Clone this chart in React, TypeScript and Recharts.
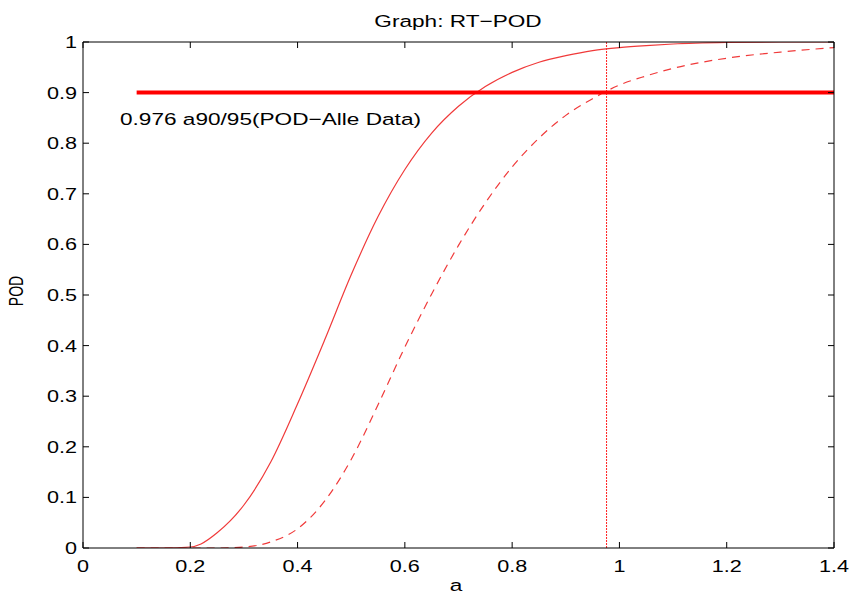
import React from "react";
import {
  ComposedChart,
  Line,
  XAxis,
  YAxis,
  ReferenceLine,
  ReferenceDot,
} from "recharts";

// ---- data ----
const aValues = [
  0.1, 0.15, 0.2, 0.22, 0.25, 0.3, 0.35, 0.4, 0.45, 0.5, 0.55, 0.6, 0.65, 0.7,
  0.75, 0.8, 0.85, 0.9, 0.95, 1.0, 1.05, 1.1, 1.2, 1.3, 1.4,
];
const podSolid = [
  0, 0, 0.002, 0.008, 0.03, 0.085, 0.17, 0.285, 0.41, 0.54, 0.655, 0.748,
  0.82, 0.873, 0.912, 0.94, 0.96, 0.973, 0.983, 0.989, 0.993, 0.996, 0.999,
  1.0, 1.0,
];
const podDashed = [
  0, 0, 0, 0, 0, 0.002, 0.012, 0.038, 0.092, 0.175, 0.283, 0.397, 0.502, 0.598,
  0.682, 0.753, 0.81, 0.855, 0.888, 0.915, 0.933, 0.948, 0.968, 0.98, 0.989,
];
const thresholdPOD = 0.9;
const a9095 = 0.976;
const xTicks = [0, 0.2, 0.4, 0.6, 0.8, 1, 1.2, 1.4];
const xTickLabels = ["0", "0.2", "0.4", "0.6", "0.8", "1", "1.2", "1.4"];
const yTicks = [0, 0.1, 0.2, 0.3, 0.4, 0.5, 0.6, 0.7, 0.8, 0.9, 1];
const yTickLabels = ["0", "0.1", "0.2", "0.3", "0.4", "0.5", "0.6", "0.7", "0.8", "0.9", "1"];
const titleText = "Graph: RT\u2212POD";
const annotationText = "0.976 a90/95(POD\u2212Alle Data)";
const xLabel = "a";
const yLabel = "POD";

const tableData = aValues.map((a, i) => ({
  a,
  solid: podSolid[i],
  dashed: podDashed[i],
  thr: thresholdPOD,
}));

const FONT = "'Liberation Sans', Arial, sans-serif";

const labelFor = (vals: number[], labels: string[], v: number) => {
  const i = vals.findIndex((t) => Math.abs(t - v) < 1e-9);
  return i >= 0 ? labels[i] : String(v);
};

const BottomTick = (props: any) => {
  const { x, y, payload } = props;
  return (
    <g>
      <line x1={x} y1={y} x2={x} y2={y - 6} stroke="#000" strokeWidth={1} />
      <text
        transform={`translate(${x},${y + 24}) scale(1.35,1)`}
        textAnchor="middle"
        fontSize={16}
        fontFamily={FONT}
        fill="#000"
      >
        {labelFor(xTicks, xTickLabels, payload.value)}
      </text>
    </g>
  );
};

const TopTick = (props: any) => {
  const { x, y } = props;
  return <line x1={x} y1={y} x2={x} y2={y + 6} stroke="#000" strokeWidth={1} />;
};

const LeftTick = (props: any) => {
  const { x, y, payload } = props;
  return (
    <g>
      <line x1={x} y1={y} x2={x + 6} y2={y} stroke="#000" strokeWidth={1} />
      <text
        transform={`translate(${x - 6},${y + 6}) scale(1.35,1)`}
        textAnchor="end"
        fontSize={16}
        fontFamily={FONT}
        fill="#000"
      >
        {labelFor(yTicks, yTickLabels, payload.value)}
      </text>
    </g>
  );
};

const RightTick = (props: any) => {
  const { x, y } = props;
  return <line x1={x} y1={y} x2={x - 6} y2={y} stroke="#000" strokeWidth={1} />;
};

const AnnotationShape = (props: any) => {
  const { cx, cy } = props;
  return (
    <text
      transform={`translate(${cx},${cy}) scale(1.33,1)`}
      textAnchor="start"
      fontSize={17}
      fontFamily={FONT}
      fill="#000"
    >
      {annotationText}
    </text>
  );
};

export default function App() {
  return (
    <div style={{ position: "absolute", left: 0, top: 0, background: "#fff" }}>
      <ComposedChart
        width={849}
        height={596}
        data={tableData}
        margin={{ top: 41, right: 14, bottom: 18, left: 23 }}
        style={{ background: "#fff" }}
      >
        <XAxis
          xAxisId="bottom"
          dataKey="a"
          type="number"
          domain={[0, 1.4]}
          ticks={xTicks}
          allowDataOverflow
          height={30}
          tickSize={0}
          tickMargin={0}
          tickLine={false}
          axisLine={{ stroke: "#000", strokeWidth: 1 }}
          tick={<BottomTick />}
          interval={0}
        />
        <XAxis
          xAxisId="top"
          orientation="top"
          dataKey="a"
          type="number"
          domain={[0, 1.4]}
          ticks={xTicks}
          allowDataOverflow
          height={1}
          tickSize={0}
          tickMargin={0}
          tickLine={false}
          axisLine={{ stroke: "#000", strokeWidth: 1 }}
          tick={<TopTick />}
          interval={0}
        />
        <YAxis
          yAxisId="left"
          type="number"
          domain={[0, 1]}
          ticks={yTicks}
          allowDataOverflow
          width={60}
          tickSize={0}
          tickMargin={0}
          tickLine={false}
          axisLine={{ stroke: "#000", strokeWidth: 1 }}
          tick={<LeftTick />}
          interval={0}
        />
        <YAxis
          yAxisId="right"
          orientation="right"
          type="number"
          domain={[0, 1]}
          ticks={yTicks}
          allowDataOverflow
          width={1}
          tickSize={0}
          tickMargin={0}
          tickLine={false}
          axisLine={{ stroke: "#000", strokeWidth: 1 }}
          tick={<RightTick />}
          interval={0}
        />
        <ReferenceLine
          xAxisId="bottom"
          yAxisId="left"
          x={a9095}
          stroke="#ff2020"
          strokeWidth={1}
          strokeDasharray="2 1"
        />
        <Line
          xAxisId="bottom"
          yAxisId="left"
          type="monotone"
          dataKey="solid"
          stroke="#f03a3a"
          strokeWidth={1.2}
          dot={false}
          isAnimationActive={false}
        />
        <Line
          xAxisId="bottom"
          yAxisId="left"
          type="monotone"
          dataKey="dashed"
          stroke="#f03a3a"
          strokeWidth={1.2}
          strokeDasharray="8 6"
          dot={false}
          isAnimationActive={false}
        />
        <Line
          xAxisId="bottom"
          yAxisId="left"
          type="linear"
          dataKey="thr"
          stroke="#ff0000"
          strokeWidth={4}
          dot={false}
          isAnimationActive={false}
        />
        <ReferenceDot
          xAxisId="bottom"
          yAxisId="left"
          x={0.069}
          y={0.836}
          r={0}
          shape={<AnnotationShape />}
        />
        <text
          transform="translate(458,27) scale(1.33,1)"
          textAnchor="middle"
          fontSize={17}
          fontFamily={FONT}
          fill="#000"
        >
          {titleText}
        </text>
        <text
          transform="translate(456,591) scale(1.33,1)"
          textAnchor="middle"
          fontSize={17}
          fontFamily={FONT}
          fill="#000"
        >
          {xLabel}
        </text>
        <text
          transform="translate(23,291) rotate(-90) scale(1,1.4)"
          textAnchor="middle"
          fontSize={14}
          fontFamily={FONT}
          fill="#000"
        >
          {yLabel}
        </text>
      </ComposedChart>
    </div>
  );
}
